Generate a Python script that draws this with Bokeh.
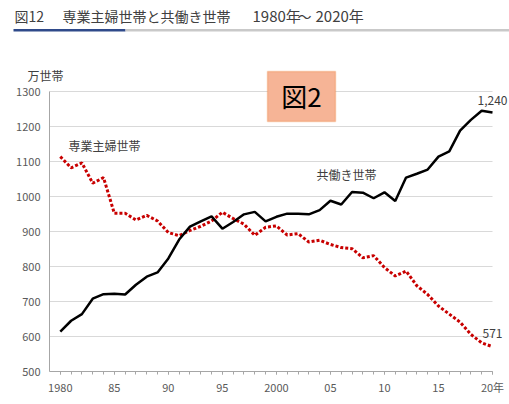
from bokeh.plotting import figure
from bokeh.models import Label, BoxAnnotation, FixedTicker, Range1d
from bokeh.embed import file_html
from bokeh.resources import INLINE

years = [1980, 1981, 1982, 1983, 1984, 1985, 1986, 1987, 1988, 1989,
         1990, 1991, 1992, 1993, 1994, 1995, 1996, 1997, 1998, 1999,
         2000, 2001, 2002, 2003, 2004, 2005, 2006, 2007, 2008, 2009,
         2010, 2011, 2012, 2013, 2014, 2015, 2016, 2017, 2018, 2019, 2020]
dual_income = [614, 645, 664, 708, 721, 722, 720, 748, 771, 783,
               823, 877, 914, 929, 943, 908, 927, 949, 956, 929,
               942, 951, 951, 949, 961, 988, 977, 1013, 1011, 995,
               1012, 987, 1054, 1065, 1077, 1114, 1129, 1188, 1219, 1245, 1240]
housewife = [1114, 1082, 1096, 1038, 1054, 952, 952, 933, 946, 930,
             897, 888, 903, 915, 930, 955, 937, 921, 889, 912,
             916, 890, 894, 870, 875, 863, 854, 851, 825, 831,
             797, 773, 787, 745, 720, 687, 664, 641, 606, 582, 571]
x_ticks = [1980, 1985, 1990, 1995, 2000, 2005, 2010, 2015, 2020]
x_tick_labels = ["1980", "85", "90", "95", "2000", "05", "10", "15", "20年"]
y_ticks = [500, 600, 700, 800, 900, 1000, 1100, 1200, 1300]

title_parts = ["図12", "専業主婦世帯と共働き世帯", "1980年", "～", "2020年"]
unit_text = "万世帯"
badge_text = "図2"
housewife_name = "専業主婦世帯"
dual_name = "共働き世帯"

FONT = "Noto Sans CJK JP"
TXT = "#404040"

# plot-area geometry (pixels in the 509x404 canvas)
W, H = 509, 404
FL, FR, FT, FB = 49, 492, 91, 371
X0, X1 = 1979, 2020
Y0, Y1 = 500, 1300
sx = (FR - FL) / (X1 - X0)
sy = (FB - FT) / (Y1 - Y0)


def X(px):
    return X0 + (px - FL) / sx


def Y(py):
    return Y1 + (FT - py) / sy


p = figure(width=W, height=H, output_backend="svg", toolbar_location=None,
           x_range=Range1d(X(0), X(W)), y_range=Range1d(Y(H), Y(0)),
           min_border_left=0, min_border_right=0, min_border_top=0,
           min_border_bottom=0)
p.outline_line_color = None
p.background_fill_color = "white"
p.border_fill_color = "white"
p.xgrid.visible = False

grid = p.ygrid[0]
if "cross_bounds" in grid.properties():
    grid.cross_bounds = (X0, X1)
    grid.grid_line_color = "#d9d9d9"
    grid.ticker = FixedTicker(ticks=y_ticks)
else:
    grid.visible = False
    p.segment(x0=[X0] * len(y_ticks), x1=[X1] * len(y_ticks), y0=y_ticks, y1=y_ticks,
              line_color="#d9d9d9", line_width=1)

yax = p.yaxis[0]
yax.fixed_location = X0
yax.bounds = (Y0, Y1)
yax.ticker = FixedTicker(ticks=y_ticks)
yax.major_tick_out = 0
yax.major_tick_in = 0
yax.minor_tick_out = 0
yax.minor_tick_in = 0
yax.axis_line_color = "#a6a6a6"
yax.major_label_standoff = 9
yax.major_label_text_font = FONT
yax.major_label_text_font_size = "11px"
yax.major_label_text_color = "#595959"

xax = p.xaxis[0]
xax.fixed_location = Y0
xax.bounds = (X0, X1)
xax.ticker = FixedTicker(ticks=x_ticks, minor_ticks=years)
xax.major_label_overrides = {t: l for t, l in zip(x_ticks, x_tick_labels)}
xax.major_tick_out = 3
xax.major_tick_in = 0
xax.minor_tick_out = 3
xax.minor_tick_in = 0
xax.axis_line_color = "#a6a6a6"
xax.major_tick_line_color = "#a6a6a6"
xax.minor_tick_line_color = "#a6a6a6"
xax.major_label_standoff = 4
xax.major_label_text_font = FONT
xax.major_label_text_font_size = "11px"
xax.major_label_text_color = "#595959"

p.line(years, housewife, line_color="#c80000", line_width=3, line_dash="3 2")
p.line(years, dual_income, line_color="#000000", line_width=2.5)

# header title, placed piece by piece
title_x = [14, 62, 252, 297, 315]
title_size = ["14px", "14px", "15px", "14px", "15px"]
for t, px, fs in zip(title_parts, title_x, title_size):
    p.add_layout(Label(x=X(px), y=Y(15), text=t, text_font=FONT,
                       text_font_size=fs, text_color=TXT, text_baseline="middle"))
p.add_layout(BoxAnnotation(left=X(13), right=X(125), top=Y(28.5), bottom=Y(31),
                           fill_color="#2f4a8a", fill_alpha=1, line_color=None))
p.add_layout(BoxAnnotation(left=X(125), right=X(W), top=Y(28.5), bottom=Y(31),
                           fill_color="#c9c9c9", fill_alpha=1, line_color=None))

p.add_layout(Label(x=X(27), y=Y(75), text=unit_text, text_font=FONT,
                   text_font_size="12px", text_color=TXT, text_baseline="middle"))

# badge
p.add_layout(BoxAnnotation(left=X(267), right=X(335), top=Y(71), bottom=Y(121),
                           fill_color="#f6b496", fill_alpha=1, line_color="#ed7d31",
                           line_width=1.5))
p.add_layout(Label(x=X(301), y=Y(95), text=badge_text, text_font=FONT,
                   text_font_size="26px", text_color="#000000", text_align="center",
                   text_baseline="middle"))

# series names
p.add_layout(Label(x=X(68), y=Y(145), text=housewife_name, text_font=FONT,
                   text_font_size="12px", text_color=TXT, text_baseline="middle"))
p.add_layout(Label(x=X(316), y=Y(174), text=dual_name, text_font=FONT,
                   text_font_size="12px", text_color=TXT, text_baseline="middle"))

# end values
p.add_layout(Label(x=years[-1], y=dual_income[-1], text="{:,}".format(dual_income[-1]),
                   x_offset=0, y_offset=12, text_font=FONT, text_font_size="12px",
                   text_color=TXT, text_align="center", text_baseline="middle"))
p.add_layout(Label(x=years[-1], y=housewife[-1], text="{:,}".format(housewife[-1]),
                   x_offset=0, y_offset=13, text_font=FONT, text_font_size="12px",
                   text_color=TXT, text_align="center", text_baseline="middle"))

open("out.html", "w").write(file_html(p, INLINE))
